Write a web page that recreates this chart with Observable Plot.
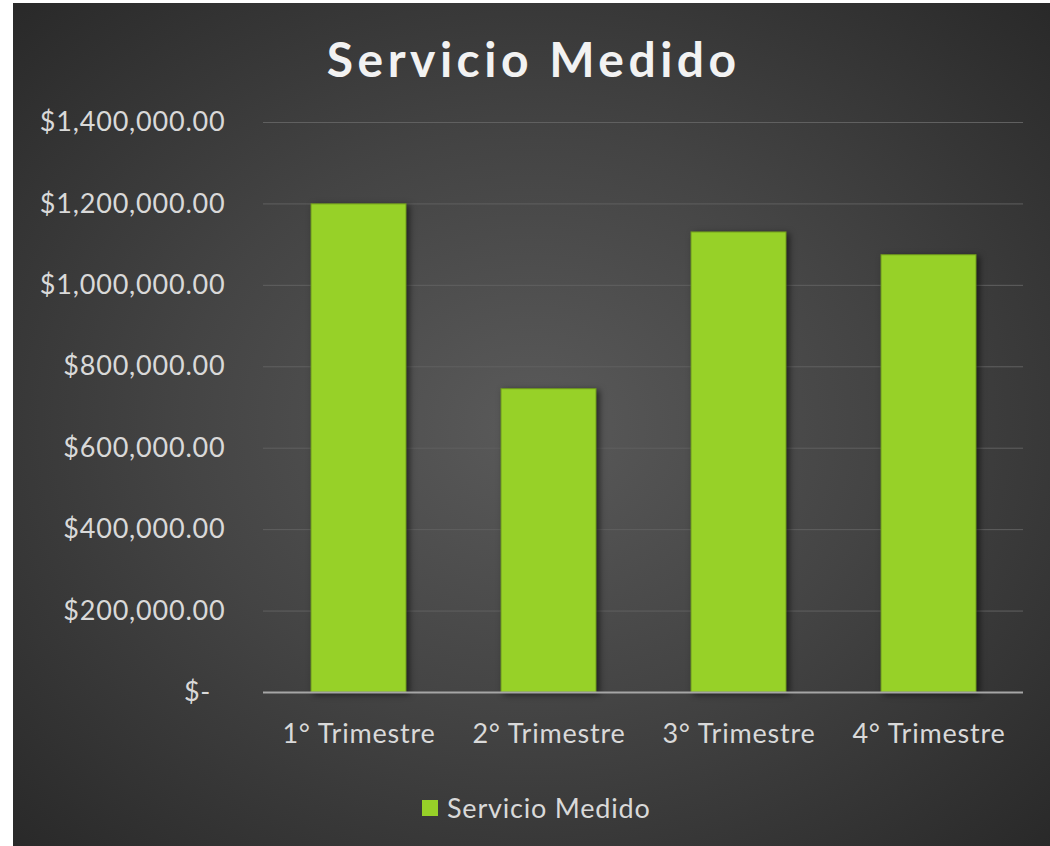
<!DOCTYPE html>
<html><head><meta charset="utf-8">
<script src="https://cdn.jsdelivr.net/npm/d3@7"></script>
<script src="https://cdn.jsdelivr.net/npm/@observablehq/plot@0.6"></script>
<style>
html,body{margin:0;padding:0;background:#fff;width:1050px;height:846px;overflow:hidden}
#chart{position:absolute;left:13px;top:3px;width:1037px;height:843px;
  background:radial-gradient(ellipse 75% 75% at 50% 50%, #5a5a5a 0%, #444 45%, #2e2e2e 85%, #262626 100%);font-family:Lato,sans-serif}
#title{position:absolute;left:0;width:1037px;top:26px;text-align:center;color:#f2f2f2;font:bold 48px Lato,sans-serif;letter-spacing:4.5px;line-height:60px;text-indent:4.5px}
#plot{position:absolute;left:0;top:97px}
#legend{position:absolute;left:409px;top:789px;display:flex;align-items:center;color:#d9d9d9;font:27px Lato,sans-serif;letter-spacing:0.8px;line-height:32px}
#legend .sw{width:16px;height:16px;background:#97d128;margin-right:9px}
#plot g[aria-label="bar"] rect{filter:drop-shadow(3px 2px 3px rgba(0,0,0,0.55))}
#plot text{letter-spacing:0.8px}
</style></head>
<body>
<div id="chart">
  <div id="title">Servicio Medido</div>
  <div id="plot"></div>
  <div id="legend"><div class="sw"></div><span>Servicio Medido</span></div>
</div>
<script>
const categories = ["1° Trimestre", "2° Trimestre", "3° Trimestre", "4° Trimestre"];
const values = [1199000, 745000, 1130000, 1074000];
const yTicks = [0, 200000, 400000, 600000, 800000, 1000000, 1200000, 1400000];
const seriesName = "Servicio Medido";

const data = categories.map((c, i) => ({trimestre: c, valor: values[i], serie: seriesName}));
const fmt = d3.format(",.2f");

const plot = Plot.plot({
  width: 1037,
  height: 660,
  marginLeft: 250,
  marginRight: 27,
  marginTop: 22,
  marginBottom: 68,
  style: {background: "transparent", fontFamily: "Lato, sans-serif", fontSize: "27px", color: "#d9d9d9", overflow: "visible"},
  x: {domain: categories, paddingInner: 0.5, paddingOuter: 0.25, label: null},
  y: {domain: [0, 1400000], label: null},
  marks: [
    Plot.gridY(yTicks, {stroke: "#606060", strokeOpacity: 1, strokeWidth: 1}),
    Plot.axisY(yTicks, {tickSize: 0, tickPadding: 38, fill: "#d9d9d9", fontSize: 27,
      tickFormat: d => d === 0 ? "$-\u2002" : "$" + fmt(d)}),
    Plot.axisX({tickSize: 0, tickPadding: 31, fill: "#d9d9d9", fontSize: 27}),
    Plot.barY(data, {x: "trimestre", y: "valor", fill: "#97d128", stroke: "#6f9a1c", strokeWidth: 1}),
    Plot.ruleY([0], {stroke: "#a6a6a6", strokeWidth: 2})
  ]
});
document.getElementById("plot").appendChild(plot);
</script>
</body></html>
